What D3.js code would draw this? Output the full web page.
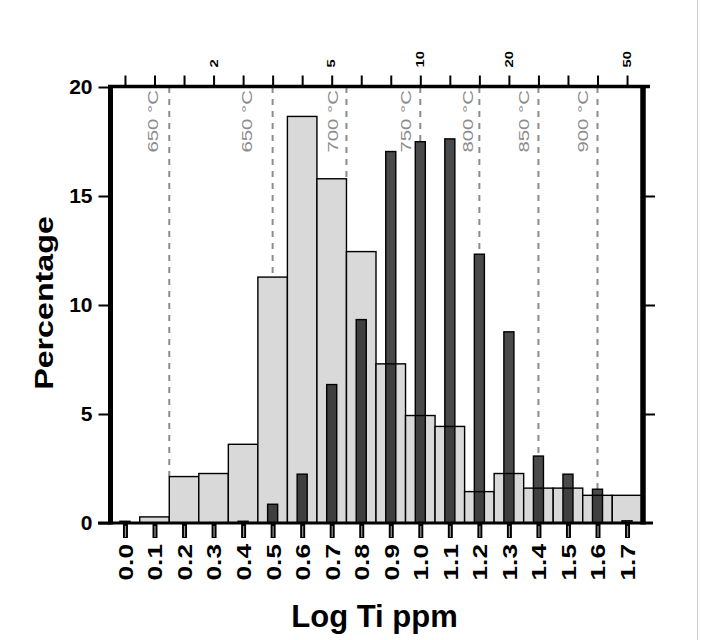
<!DOCTYPE html>
<html><head><meta charset="utf-8">
<script src="https://cdn.jsdelivr.net/npm/d3@7"></script>
<style>body{margin:0;background:#fff}</style>
</head><body><svg id="c" width="701" height="640"></svg>
<script>
// ---- data ----
const binCenters = [0.0,0.1,0.2,0.3,0.4,0.5,0.6,0.7,0.8,0.9,1.0,1.1,1.2,1.3,1.4,1.5,1.6,1.7];
const xTickLabels = ["0.0","0.1","0.2","0.3","0.4","0.5","0.6","0.7","0.8","0.9","1.0","1.1","1.2","1.3","1.4","1.5","1.6","1.7"];
const lightPct = [0, 0.28, 2.13, 2.27, 3.61, 11.28, 18.65, 15.79, 12.45, 7.30, 4.93, 4.43, 1.44, 2.27, 1.60, 1.60, 1.27, 1.27];
const darkPct  = [0.08, 0, 0, 0, 0.08, 0.86, 2.24, 6.35, 9.33, 17.04, 17.49, 17.62, 12.33, 8.77, 3.07, 2.24, 1.55, 0.1];
const yTicks = [0, 5, 10, 15, 20];
const topTickValues = [2, 5, 10, 20, 50];
const topTickLabels = ["2", "5", "10", "20", "50"];
const tempLines = [0.15, 0.5, 0.75, 1.0, 1.2, 1.4, 1.6];
const tempLabels = ["650 °C", "650 °C", "700 °C", "750 °C", "800 °C", "850 °C", "900 °C"];
const tempLabelAt = [0.095, 0.413, 0.703, 0.951, 1.160, 1.351, 1.551];

// ---- setup ----
const svg = d3.select("#c");
const FONT = "'Liberation Sans', Arial, Helvetica, sans-serif";
const x = d3.scaleLinear().domain([-0.05, 1.75]).range([110.2, 641.8]);
const y = d3.scaleLinear().domain([0, 20]).range([523, 87]);
const lightHalf = 0.05, darkHalf = 0.017;

const barTop = v => {
  let m = 0;
  binCenters.forEach((c, i) => {
    if (Math.abs(v - c) <= lightHalf + 1e-6) m = Math.max(m, lightPct[i]);
    if (Math.abs(v - c) <= darkHalf + 1e-6) m = Math.max(m, darkPct[i]);
  });
  return m;
};

// image border line at right
svg.append("line").attr("x1", 697.5).attr("x2", 697.5).attr("y1", 0).attr("y2", 640)
  .attr("stroke", "#cfcfcf").attr("stroke-width", 1);

// dashed temperature lines
svg.append("g").selectAll("line").data(tempLines).join("line")
  .attr("x1", d => x(d)).attr("x2", d => x(d))
  .attr("y1", y(20)).attr("y2", d => y(barTop(d)))
  .attr("stroke", "#8c8c8c").attr("stroke-width", 2).attr("stroke-dasharray", "6,6");

svg.append("g").selectAll("text").data(tempLabels).join("text")
  .attr("transform", (d, i) => `translate(${x(tempLabelAt[i]) + 5.4},90) rotate(-90) scale(1.36,1)`)
  .attr("text-anchor", "end")
  .attr("font-family", FONT).attr("font-size", 15).attr("fill", "#8c8c8c")
  .text(d => d);

// light bars
const light = binCenters.map((c, i) => ({c, v: lightPct[i]})).filter(d => d.v > 0);
svg.append("g").selectAll("rect").data(light).join("rect")
  .attr("x", d => x(d.c - lightHalf)).attr("width", d => x(d.c + lightHalf) - x(d.c - lightHalf))
  .attr("y", d => y(d.v)).attr("height", d => y(0) - y(d.v))
  .attr("fill", "#d9d9d9").attr("stroke", "#000").attr("stroke-width", 1.4);

// dark bars (semi-transparent)
const dark = binCenters.map((c, i) => ({c, v: darkPct[i]})).filter(d => d.v > 0);
svg.append("g").selectAll("rect").data(dark).join("rect")
  .attr("x", d => x(d.c - darkHalf)).attr("width", d => x(d.c + darkHalf) - x(d.c - darkHalf))
  .attr("y", d => y(d.v)).attr("height", d => y(0) - y(d.v))
  .attr("fill", "#000").attr("fill-opacity", 0.71).attr("stroke", "#000").attr("stroke-width", 1.4);

// ---- axes ----
// left
const gl = svg.append("g").attr("transform", "translate(110.5,0)")
  .call(d3.axisLeft(y).tickValues(yTicks).tickSize(12).tickPadding(6));
gl.select(".domain").remove();
gl.selectAll(".tick line").attr("stroke", "#000").attr("stroke-width", 2);
gl.selectAll(".tick text").attr("font-family", FONT).attr("font-size", 21).attr("font-weight", "bold").attr("fill", "#000");
svg.append("line").attr("x1", 110.5).attr("x2", 110.5).attr("y1", y(20) - 1.5).attr("y2", y(0) + 1.5)
  .attr("stroke", "#000").attr("stroke-width", 5);

// right
const gr = svg.append("g").attr("transform", "translate(643,0)")
  .call(d3.axisRight(y).tickValues([5, 10, 15]).tickSize(12).tickFormat(""));
gr.select(".domain").remove();
gr.selectAll(".tick line").attr("stroke", "#000").attr("stroke-width", 2);
svg.append("line").attr("x1", 643).attr("x2", 643).attr("y1", y(20) - 1.5).attr("y2", y(0) + 1.5)
  .attr("stroke", "#000").attr("stroke-width", 5.5);

// top
const gt = svg.append("g").attr("transform", "translate(0,86.5)")
  .call(d3.axisTop(x).tickValues(binCenters).tickSize(11).tickFormat(""));
gt.select(".domain").remove();
gt.selectAll(".tick line").attr("stroke", "#000").attr("stroke-width", 2);
const gt2 = svg.append("g").attr("transform", "translate(0,86.5)")
  .call(d3.axisTop(x).tickValues(topTickValues.map(Math.log10)).tickSize(0).tickFormat((d, i) => topTickLabels[i]));
gt2.select(".domain").remove();
gt2.selectAll(".tick text")
  .attr("x", 0).attr("y", 0).attr("dy", 0)
  .attr("transform", "translate(3.6,-19) rotate(-90) scale(1.4,1)")
  .attr("text-anchor", "start")
  .attr("font-family", FONT).attr("font-size", 10.5).attr("font-weight", "bold").attr("fill", "#000");
svg.append("line").attr("x1", 108).attr("x2", 650).attr("y1", 86.5).attr("y2", 86.5)
  .attr("stroke", "#000").attr("stroke-width", 3.5);

// bottom
const gb = svg.append("g").attr("transform", "translate(0,523)")
  .call(d3.axisBottom(x).tickValues(binCenters).tickSize(15).tickFormat((d, i) => xTickLabels[i]));
gb.select(".domain").remove();
gb.selectAll(".tick line").attr("stroke", "#000").attr("stroke-width", 5);
gb.selectAll(".tick").append("line").attr("x1", 0).attr("x2", 0).attr("y1", 3).attr("y2", 14)
  .attr("stroke", "#9a9a9a").attr("stroke-width", 1.2);
gb.selectAll(".tick text")
  .attr("x", 0).attr("y", 0).attr("dy", 0)
  .attr("transform", "translate(7.4,21) rotate(-90) scale(1.28,1)")
  .attr("text-anchor", "end")
  .attr("font-family", FONT).attr("font-size", 20.5).attr("font-weight", "bold").attr("fill", "#000");
svg.append("line").attr("x1", 98).attr("x2", 653).attr("y1", 523).attr("y2", 523)
  .attr("stroke", "#000").attr("stroke-width", 3);

// axis titles
svg.append("text").attr("x", 374.5).attr("y", 626.7).attr("text-anchor", "middle")
  .attr("font-family", FONT).attr("font-size", 31).attr("font-weight", "bold").text("Log Ti ppm");
svg.append("text").attr("transform", "translate(53,303) rotate(-90) scale(1.24,1)").attr("text-anchor", "middle")
  .attr("font-family", FONT).attr("font-size", 26).attr("font-weight", "bold").text("Percentage");
</script>
</body></html>
